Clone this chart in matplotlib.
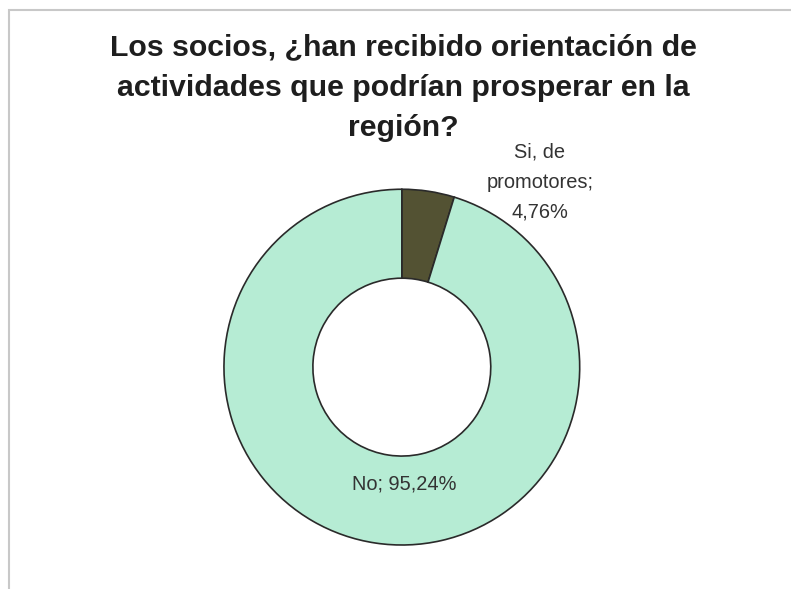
import matplotlib.pyplot as plt
from matplotlib.patches import Rectangle

# respuestas de los socios
categorias = ['Si, de\npromotores', 'No']
porcentajes = [4.76, 95.24]
colores = ['#535233', '#b6ecd4']
titulo = 'Los socios, ¿han recibido orientación de\nactividades que podrían prosperar en la\nregión?'

plt.rcParams['font.family'] = ['Liberation Sans', 'DejaVu Sans']

fig = plt.figure(figsize=(7.91, 5.89), dpi=100)
fig.patch.set_facecolor('white')

# marco del gráfico (borde superior e izquierdo)
fig.patches.append(Rectangle((9 / 791, -0.05), 1.2, 1.05 - 10 / 589,
                             transform=fig.transFigure, fill=False,
                             edgecolor='#c8c8c8', linewidth=1.5))

ax = fig.add_axes([0.283, 0.0747, 0.450, 0.604])
wedges, _ = ax.pie(porcentajes, colors=colores, startangle=90, counterclock=False,
                   radius=1.0, wedgeprops=dict(width=0.5, edgecolor='#2a2a2a', linewidth=1.2))
ax.set_xlim(-1, 1)
ax.set_ylim(-1, 1)
ax.set_aspect('equal')
ax.axis('off')

def etiqueta(cat, val):
    return '{}; {}%'.format(cat, '{:.2f}'.format(val).replace('.', ','))

fig.text(540 / 791, 1 - 182 / 589, etiqueta(categorias[0], porcentajes[0]).replace('; ', ';\n'),
         ha='center', va='center', fontsize=14.4, color='#333333', linespacing=1.75)
fig.text(404 / 791, 1 - 484 / 589, etiqueta(categorias[1], porcentajes[1]),
         ha='center', va='center', fontsize=14.4, color='#333333')

fig.text(403 / 791, 1 - 88 / 589, titulo, ha='center', va='center', fontsize=21.8,
         fontweight='bold', color='#1e1e1e', linespacing=1.56)

fig.savefig('out.png', dpi=100)
